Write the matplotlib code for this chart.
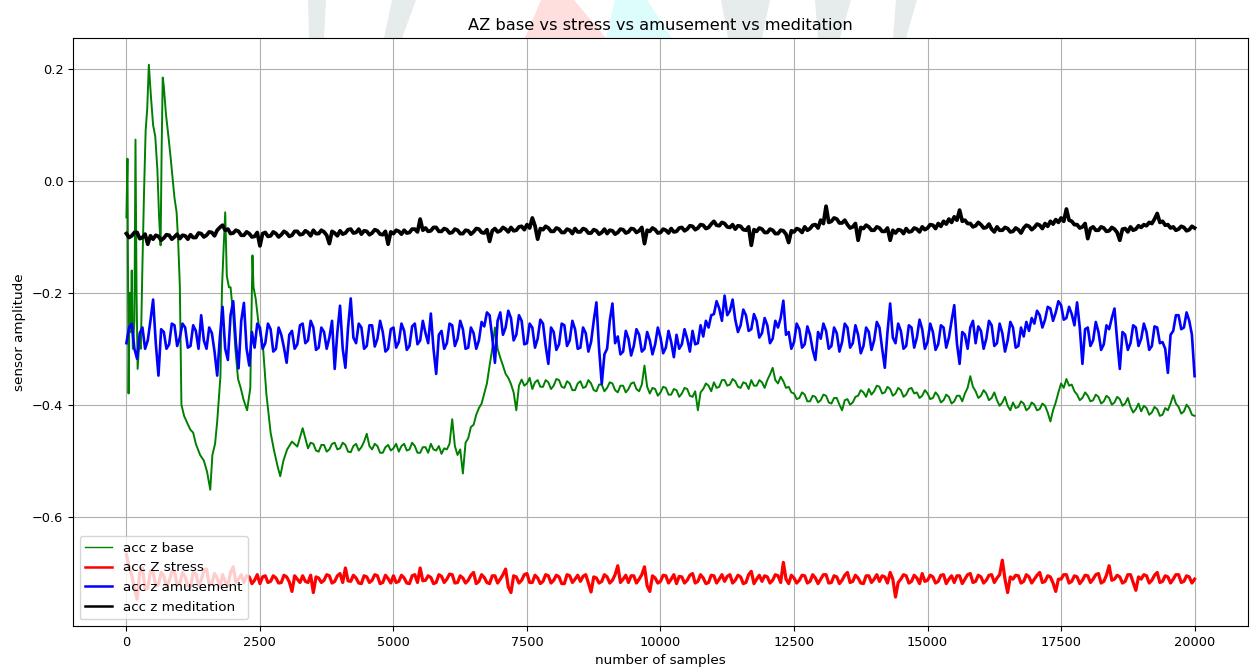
#!/usr/bin/env python3
''' Plot z-axis accelerometer traces for the four sessions
'''

#
# import statements
#

import numpy as np
import matplotlib
matplotlib.use('Agg')
from matplotlib import pyplot
from matplotlib.patches import Polygon

#
# data
#

# sample index for the regularly sampled traces (every 50th sample)
samples = np.arange(0, 20001, 50)

# acc z meditation
acc_meditation = [
    -0.094, -0.101, -0.098, -0.092, -0.092, -0.103, -0.101, -0.095, -0.113, -0.098,
    -0.104, -0.097, -0.099, -0.106, -0.102, -0.096, -0.097, -0.104, -0.100, -0.095,
    -0.103, -0.097, -0.098, -0.104, -0.096, -0.101, -0.101, -0.093, -0.094, -0.100,
    -0.097, -0.091, -0.092, -0.098, -0.088, -0.083, -0.079, -0.088, -0.086, -0.094,
    -0.093, -0.088, -0.090, -0.097, -0.097, -0.091, -0.094, -0.100, -0.099, -0.092,
    -0.116, -0.094, -0.092, -0.099, -0.098, -0.091, -0.094, -0.100, -0.096, -0.090,
    -0.093, -0.099, -0.097, -0.090, -0.090, -0.096, -0.095, -0.089, -0.092, -0.098,
    -0.088, -0.094, -0.094, -0.088, -0.091, -0.097, -0.112, -0.090, -0.093, -0.098,
    -0.089, -0.095, -0.093, -0.087, -0.086, -0.093, -0.092, -0.086, -0.095, -0.089,
    -0.090, -0.096, -0.093, -0.087, -0.089, -0.095, -0.096, -0.090, -0.113, -0.091,
    -0.094, -0.088, -0.090, -0.095, -0.088, -0.093, -0.092, -0.086, -0.086, -0.091,
    -0.068, -0.088, -0.084, -0.090, -0.089, -0.083, -0.083, -0.090, -0.090, -0.085,
    -0.087, -0.093, -0.092, -0.086, -0.088, -0.094, -0.094, -0.088, -0.089, -0.095,
    -0.091, -0.085, -0.086, -0.092, -0.093, -0.087, -0.108, -0.089, -0.085, -0.091,
    -0.089, -0.083, -0.086, -0.091, -0.083, -0.089, -0.088, -0.082, -0.081, -0.087,
    -0.078, -0.084, -0.066, -0.080, -0.104, -0.085, -0.087, -0.081, -0.084, -0.090,
    -0.090, -0.084, -0.086, -0.092, -0.092, -0.086, -0.088, -0.094, -0.085, -0.091,
    -0.091, -0.085, -0.087, -0.093, -0.093, -0.087, -0.089, -0.095, -0.092, -0.086,
    -0.094, -0.088, -0.089, -0.095, -0.092, -0.086, -0.087, -0.093, -0.091, -0.085,
    -0.086, -0.092, -0.089, -0.083, -0.112, -0.088, -0.090, -0.084, -0.087, -0.093,
    -0.092, -0.086, -0.088, -0.093, -0.085, -0.091, -0.090, -0.084, -0.083, -0.089,
    -0.086, -0.080, -0.081, -0.087, -0.084, -0.078, -0.079, -0.085, -0.083, -0.077,
    -0.072, -0.079, -0.080, -0.074, -0.076, -0.082, -0.083, -0.078, -0.086, -0.080,
    -0.081, -0.087, -0.088, -0.082, -0.115, -0.087, -0.090, -0.084, -0.086, -0.092,
    -0.092, -0.086, -0.088, -0.094, -0.094, -0.088, -0.089, -0.095, -0.110, -0.089,
    -0.091, -0.085, -0.087, -0.092, -0.082, -0.088, -0.085, -0.079, -0.078, -0.084,
    -0.070, -0.076, -0.045, -0.074, -0.072, -0.066, -0.068, -0.075, -0.075, -0.070,
    -0.078, -0.084, -0.082, -0.076, -0.106, -0.083, -0.085, -0.079, -0.082, -0.088,
    -0.088, -0.082, -0.084, -0.090, -0.090, -0.084, -0.106, -0.088, -0.093, -0.087,
    -0.088, -0.094, -0.085, -0.091, -0.090, -0.084, -0.086, -0.091, -0.082, -0.087,
    -0.084, -0.078, -0.079, -0.085, -0.076, -0.081, -0.072, -0.077, -0.068, -0.074,
    -0.064, -0.070, -0.052, -0.072, -0.070, -0.076, -0.076, -0.082, -0.080, -0.074,
    -0.078, -0.084, -0.083, -0.077, -0.086, -0.091, -0.082, -0.088, -0.088, -0.083,
    -0.085, -0.091, -0.090, -0.084, -0.087, -0.093, -0.084, -0.079, -0.081, -0.087,
    -0.083, -0.077, -0.079, -0.085, -0.076, -0.081, -0.072, -0.077, -0.069, -0.074,
    -0.066, -0.072, -0.050, -0.070, -0.072, -0.078, -0.078, -0.084, -0.082, -0.076,
    -0.103, -0.085, -0.082, -0.088, -0.088, -0.082, -0.084, -0.090, -0.089, -0.083,
    -0.086, -0.092, -0.106, -0.086, -0.085, -0.091, -0.082, -0.088, -0.086, -0.080,
    -0.083, -0.078, -0.080, -0.074, -0.076, -0.068, -0.058, -0.074, -0.072, -0.079,
    -0.078, -0.084, -0.082, -0.088, -0.086, -0.081, -0.083, -0.089, -0.087, -0.081,
    -0.084,
]

# acc Z stress
acc_stress = [
    -0.668, -0.690, -0.705, -0.728, -0.748, -0.700, -0.692, -0.730, -0.728, -0.698,
    -0.700, -0.724, -0.722, -0.700, -0.706, -0.726, -0.716, -0.698, -0.698, -0.722,
    -0.720, -0.700, -0.708, -0.724, -0.726, -0.700, -0.702, -0.722, -0.714, -0.696,
    -0.694, -0.722, -0.720, -0.702, -0.710, -0.726, -0.704, -0.716, -0.724, -0.700,
    -0.690, -0.718, -0.712, -0.704, -0.718, -0.706, -0.708, -0.720, -0.714, -0.704,
    -0.720, -0.708, -0.706, -0.718, -0.716, -0.706, -0.710, -0.719, -0.718, -0.705,
    -0.708, -0.717, -0.734, -0.706, -0.712, -0.718, -0.706, -0.716, -0.718, -0.705,
    -0.736, -0.708, -0.710, -0.718, -0.714, -0.704, -0.706, -0.719, -0.716, -0.706,
    -0.702, -0.718, -0.692, -0.715, -0.716, -0.705, -0.710, -0.719, -0.720, -0.706,
    -0.708, -0.718, -0.714, -0.704, -0.706, -0.720, -0.718, -0.705, -0.711, -0.719,
    -0.706, -0.718, -0.716, -0.705, -0.710, -0.719, -0.720, -0.706, -0.704, -0.718,
    -0.692, -0.715, -0.714, -0.706, -0.709, -0.720, -0.718, -0.704, -0.707, -0.718,
    -0.712, -0.703, -0.704, -0.719, -0.718, -0.706, -0.710, -0.719, -0.714, -0.705,
    -0.700, -0.720, -0.716, -0.704, -0.709, -0.718, -0.720, -0.706, -0.706, -0.719,
    -0.712, -0.704, -0.694, -0.726, -0.736, -0.706, -0.708, -0.719, -0.714, -0.704,
    -0.702, -0.718, -0.718, -0.705, -0.710, -0.720, -0.716, -0.704, -0.706, -0.719,
    -0.714, -0.705, -0.708, -0.720, -0.720, -0.704, -0.706, -0.718, -0.712, -0.705,
    -0.716, -0.707, -0.704, -0.719, -0.735, -0.708, -0.710, -0.719, -0.716, -0.704,
    -0.708, -0.719, -0.714, -0.704, -0.688, -0.718, -0.712, -0.705, -0.718, -0.706,
    -0.706, -0.719, -0.712, -0.704, -0.690, -0.724, -0.734, -0.706, -0.710, -0.719,
    -0.716, -0.705, -0.706, -0.719, -0.712, -0.704, -0.720, -0.707, -0.708, -0.719,
    -0.714, -0.705, -0.702, -0.719, -0.716, -0.704, -0.710, -0.720, -0.718, -0.705,
    -0.706, -0.719, -0.712, -0.704, -0.716, -0.707, -0.704, -0.719, -0.714, -0.705,
    -0.708, -0.720, -0.718, -0.704, -0.698, -0.720, -0.712, -0.705, -0.716, -0.706,
    -0.708, -0.719, -0.714, -0.704, -0.706, -0.718, -0.682, -0.712, -0.720, -0.705,
    -0.710, -0.719, -0.714, -0.705, -0.706, -0.719, -0.716, -0.704, -0.710, -0.720,
    -0.712, -0.704, -0.704, -0.719, -0.718, -0.706, -0.708, -0.720, -0.714, -0.705,
    -0.700, -0.718, -0.716, -0.705, -0.710, -0.719, -0.720, -0.706, -0.706, -0.718,
    -0.712, -0.704, -0.716, -0.706, -0.708, -0.719, -0.700, -0.712, -0.744, -0.718,
    -0.712, -0.704, -0.706, -0.719, -0.716, -0.705, -0.710, -0.720, -0.702, -0.716,
    -0.714, -0.705, -0.708, -0.719, -0.716, -0.705, -0.704, -0.720, -0.712, -0.706,
    -0.718, -0.706, -0.706, -0.720, -0.712, -0.704, -0.702, -0.718, -0.716, -0.705,
    -0.708, -0.719, -0.714, -0.705, -0.704, -0.718, -0.710, -0.704, -0.678, -0.712,
    -0.736, -0.708, -0.712, -0.705, -0.706, -0.719, -0.716, -0.704, -0.708, -0.719,
    -0.712, -0.705, -0.700, -0.718, -0.716, -0.706, -0.708, -0.719, -0.734, -0.712,
    -0.712, -0.704, -0.704, -0.719, -0.716, -0.706, -0.708, -0.720, -0.714, -0.705,
    -0.706, -0.718, -0.712, -0.704, -0.702, -0.719, -0.716, -0.705, -0.688, -0.714,
    -0.712, -0.705, -0.708, -0.719, -0.716, -0.704, -0.704, -0.718, -0.732, -0.708,
    -0.712, -0.704, -0.706, -0.719, -0.714, -0.705, -0.700, -0.718, -0.716, -0.706,
    -0.708, -0.719, -0.712, -0.704, -0.704, -0.718, -0.716, -0.706, -0.708, -0.719,
    -0.712,
]

# acc z amusement
acc_amusement = [
    -0.290, -0.262, -0.255, -0.300, -0.318, -0.272, -0.262, -0.300, -0.285, -0.250,
    -0.212, -0.290, -0.348, -0.265, -0.270, -0.300, -0.292, -0.255, -0.258, -0.295,
    -0.280, -0.255, -0.262, -0.298, -0.295, -0.258, -0.268, -0.300, -0.240, -0.285,
    -0.300, -0.262, -0.272, -0.305, -0.348, -0.280, -0.225, -0.300, -0.320, -0.240,
    -0.215, -0.290, -0.335, -0.250, -0.218, -0.300, -0.330, -0.270, -0.298, -0.255,
    -0.262, -0.300, -0.290, -0.255, -0.265, -0.305, -0.300, -0.262, -0.275, -0.298,
    -0.325, -0.275, -0.268, -0.300, -0.292, -0.258, -0.255, -0.290, -0.285, -0.250,
    -0.262, -0.302, -0.298, -0.262, -0.270, -0.300, -0.280, -0.250, -0.336, -0.270,
    -0.223, -0.300, -0.334, -0.262, -0.210, -0.280, -0.290, -0.255, -0.262, -0.300,
    -0.295, -0.258, -0.258, -0.296, -0.282, -0.250, -0.270, -0.305, -0.300, -0.265,
    -0.262, -0.298, -0.288, -0.255, -0.268, -0.302, -0.295, -0.260, -0.255, -0.292,
    -0.285, -0.250, -0.272, -0.290, -0.237, -0.300, -0.345, -0.275, -0.268, -0.300,
    -0.290, -0.255, -0.258, -0.295, -0.282, -0.250, -0.265, -0.300, -0.298, -0.262,
    -0.272, -0.300, -0.285, -0.252, -0.260, -0.235, -0.240, -0.280, -0.325, -0.250,
    -0.235, -0.275, -0.262, -0.232, -0.245, -0.285, -0.275, -0.240, -0.250, -0.292,
    -0.290, -0.255, -0.262, -0.298, -0.282, -0.248, -0.255, -0.295, -0.327, -0.262,
    -0.270, -0.302, -0.292, -0.255, -0.258, -0.295, -0.285, -0.250, -0.265, -0.300,
    -0.298, -0.262, -0.272, -0.305, -0.288, -0.250, -0.217, -0.300, -0.363, -0.310,
    -0.300, -0.250, -0.219, -0.290, -0.278, -0.310, -0.305, -0.268, -0.282, -0.312,
    -0.295, -0.265, -0.275, -0.305, -0.300, -0.270, -0.285, -0.310, -0.292, -0.262,
    -0.280, -0.308, -0.298, -0.268, -0.288, -0.315, -0.275, -0.300, -0.292, -0.265,
    -0.282, -0.305, -0.268, -0.292, -0.290, -0.258, -0.278, -0.250, -0.262, -0.240,
    -0.238, -0.215, -0.228, -0.250, -0.205, -0.240, -0.232, -0.212, -0.248, -0.270,
    -0.258, -0.230, -0.240, -0.268, -0.265, -0.238, -0.250, -0.280, -0.272, -0.245,
    -0.258, -0.290, -0.282, -0.250, -0.262, -0.245, -0.214, -0.275, -0.270, -0.300,
    -0.288, -0.255, -0.265, -0.298, -0.292, -0.260, -0.275, -0.302, -0.320, -0.270,
    -0.282, -0.255, -0.268, -0.300, -0.295, -0.262, -0.272, -0.305, -0.288, -0.255,
    -0.262, -0.298, -0.290, -0.258, -0.275, -0.308, -0.295, -0.262, -0.270, -0.302,
    -0.285, -0.252, -0.262, -0.300, -0.334, -0.270, -0.219, -0.280, -0.290, -0.255,
    -0.268, -0.300, -0.295, -0.258, -0.262, -0.298, -0.280, -0.248, -0.265, -0.300,
    -0.288, -0.255, -0.270, -0.302, -0.292, -0.258, -0.262, -0.298, -0.280, -0.250,
    -0.222, -0.290, -0.327, -0.270, -0.275, -0.300, -0.262, -0.250, -0.290, -0.260,
    -0.268, -0.300, -0.282, -0.250, -0.258, -0.295, -0.290, -0.255, -0.272, -0.305,
    -0.285, -0.252, -0.262, -0.298, -0.295, -0.262, -0.278, -0.252, -0.268, -0.245,
    -0.255, -0.232, -0.240, -0.262, -0.248, -0.225, -0.228, -0.250, -0.235, -0.215,
    -0.222, -0.248, -0.245, -0.225, -0.238, -0.258, -0.217, -0.262, -0.327, -0.265,
    -0.262, -0.295, -0.285, -0.252, -0.270, -0.302, -0.292, -0.258, -0.265, -0.245,
    -0.228, -0.285, -0.336, -0.270, -0.275, -0.302, -0.290, -0.258, -0.262, -0.295,
    -0.282, -0.255, -0.270, -0.302, -0.295, -0.260, -0.262, -0.290, -0.288, -0.300,
    -0.343, -0.275, -0.268, -0.240, -0.240, -0.265, -0.262, -0.235, -0.250, -0.275,
    -0.349,
]

# acc z base: the first 3300 samples move fast, so they are read more densely
base_samples = [
    0, 20, 40, 60, 80, 100, 120, 150, 170, 190,
    210, 240, 270, 300, 330, 360, 390, 420, 440, 460,
    500, 540, 580, 610, 640, 660, 680, 700, 740, 790,
    830, 860, 900, 940, 970, 1000, 1030, 1080, 1140, 1200,
    1250, 1300, 1380, 1450, 1510, 1570, 1610, 1660, 1700, 1760,
    1790, 1820, 1850, 1880, 1920, 1950, 2000, 2040, 2090, 2140,
    2190, 2260, 2320, 2360, 2380, 2420, 2480, 2560, 2620, 2700,
    2760, 2830, 2880, 2940, 3010, 3100, 3200, 3300,
] + list(range(3400, 20001, 50))

acc_base = [
    -0.065, 0.040, -0.380, -0.200, -0.270, -0.160, -0.300, -0.250, 0.074, -0.200,
    -0.336, -0.290, -0.300, -0.150, -0.020, 0.090, 0.130, 0.208, 0.180, 0.150,
    0.100, 0.080, 0.020, -0.060, -0.115, 0.060, 0.185, 0.170, 0.120, 0.077,
    0.040, 0.010, -0.030, -0.056, -0.110, -0.187, -0.400, -0.420, -0.433, -0.445,
    -0.450, -0.470, -0.490, -0.500, -0.520, -0.552, -0.490, -0.470, -0.430, -0.350,
    -0.190, -0.120, -0.056, -0.170, -0.190, -0.190, -0.240, -0.300, -0.354, -0.370,
    -0.390, -0.410, -0.370, -0.133, -0.190, -0.210, -0.260, -0.300, -0.380, -0.450,
    -0.480, -0.510, -0.528, -0.500, -0.480, -0.466, -0.475, -0.442,
    # 3400 onwards, every 50 samples
    -0.478, -0.468, -0.470, -0.482, -0.484, -0.472, -0.472, -0.484, -0.480, -0.470,
    -0.468, -0.480,
    -0.478, -0.468, -0.472, -0.484, -0.485, -0.474, -0.470, -0.482, -0.476, -0.466,
    -0.452, -0.474, -0.480, -0.470, -0.474, -0.486, -0.486, -0.476, -0.472, -0.482,
    -0.478, -0.470, -0.484, -0.474, -0.470, -0.482, -0.480, -0.468, -0.474, -0.486,
    -0.486, -0.476, -0.476, -0.486, -0.470, -0.480, -0.482, -0.474, -0.488, -0.478,
    -0.480, -0.470, -0.426, -0.474, -0.490, -0.480, -0.523, -0.468, -0.460, -0.440,
    -0.436, -0.418, -0.406, -0.398, -0.380, -0.362, -0.330, -0.300, -0.262, -0.300,
    -0.316, -0.330, -0.345, -0.352, -0.363, -0.378, -0.410, -0.366, -0.355, -0.366,
    -0.362, -0.352, -0.372, -0.360, -0.356, -0.368, -0.368, -0.356, -0.360, -0.372,
    -0.366, -0.354, -0.356, -0.368, -0.370, -0.358, -0.362, -0.374, -0.374, -0.362,
    -0.358, -0.370, -0.368, -0.356, -0.362, -0.374, -0.376, -0.364, -0.364, -0.376,
    -0.370, -0.360, -0.362, -0.374, -0.378, -0.366, -0.366, -0.378, -0.372, -0.362,
    -0.360, -0.372, -0.376, -0.364, -0.330, -0.368, -0.380, -0.370, -0.372, -0.384,
    -0.378, -0.368, -0.370, -0.382, -0.382, -0.372, -0.374, -0.386, -0.380, -0.370,
    -0.372, -0.384, -0.386, -0.376, -0.410, -0.378, -0.372, -0.362, -0.366, -0.376,
    -0.360, -0.370, -0.368, -0.356, -0.356, -0.366, -0.364, -0.354, -0.358, -0.368,
    -0.370, -0.360, -0.362, -0.372, -0.356, -0.366, -0.366, -0.356, -0.360, -0.370,
    -0.356, -0.346, -0.334, -0.356, -0.362, -0.350, -0.358, -0.370, -0.368, -0.378,
    -0.380, -0.390, -0.388, -0.378, -0.382, -0.394, -0.394, -0.384, -0.386, -0.396,
    -0.392, -0.382, -0.384, -0.396, -0.398, -0.388, -0.388, -0.400, -0.410, -0.392,
    -0.390, -0.400, -0.396, -0.386, -0.384, -0.374, -0.378, -0.386, -0.372, -0.382,
    -0.376, -0.366, -0.368, -0.380, -0.378, -0.368, -0.372, -0.384, -0.380, -0.370,
    -0.374, -0.386, -0.382, -0.372, -0.370, -0.380, -0.378, -0.388, -0.384, -0.374,
    -0.380, -0.390, -0.388, -0.378, -0.384, -0.396, -0.392, -0.382, -0.386, -0.398,
    -0.394, -0.384, -0.384, -0.394, -0.380, -0.370, -0.349, -0.368, -0.376, -0.388,
    -0.384, -0.374, -0.380, -0.392, -0.388, -0.378, -0.392, -0.402, -0.396, -0.386,
    -0.402, -0.410, -0.396, -0.406, -0.404, -0.394, -0.398, -0.410, -0.406, -0.396,
    -0.400, -0.410, -0.408, -0.398, -0.402, -0.414, -0.430, -0.410, -0.396, -0.378,
    -0.362, -0.370, -0.354, -0.366, -0.364, -0.376, -0.382, -0.392, -0.388, -0.378,
    -0.384, -0.394, -0.392, -0.382, -0.386, -0.398, -0.394, -0.384, -0.388, -0.400,
    -0.396, -0.386, -0.390, -0.402, -0.398, -0.388, -0.404, -0.414, -0.408, -0.398,
    -0.412, -0.402, -0.406, -0.418, -0.414, -0.404, -0.408, -0.420, -0.418, -0.406,
    -0.410, -0.398, -0.383, -0.398, -0.404, -0.416, -0.412, -0.400, -0.406, -0.418,
    -0.420,
]

#
# main
#

if __name__ == '__main__':

    for name, ys in [('meditation', acc_meditation), ('stress', acc_stress),
                     ('amusement', acc_amusement)]:
        assert len(ys) == len(samples), name
    assert len(acc_base) == len(base_samples)

    W, H = 1250, 671
    fig = pyplot.figure(figsize=(W / 100, H / 100), dpi=100)

    # faded logo peeking out above the plot area (pixel outlines)
    def px(pts):
        return [(x / W, 1 - y / H) for x, y in pts]

    logo = [
        ([(308, 0), (326, 0), (324, 38), (309, 38)], '#e6ebec'),
        ([(392, 0), (416, 0), (402, 38), (384, 38)], '#e6ebec'),
        ([(541, 0), (574, 0), (606, 38), (525, 38)], '#ffdede'),
        ([(615, 0), (647, 0), (672, 38), (606, 38)], '#ddfcfc'),
        ([(721, 0), (770, 0), (762, 38), (728, 38)], '#e6ebec'),
        ([(815, 0), (851, 0), (840, 38), (818, 38)], '#e6ebec'),
        ([(896, 0), (917, 0), (906, 38), (893, 38)], '#e6ebec'),
    ]
    for pts, col in logo:
        fig.patches.append(Polygon(px(pts), closed=True, transform=fig.transFigure,
                                   facecolor=col, edgecolor='none', zorder=-5))

    ax = fig.add_axes([73 / W, 1 - 626 / H, (1248 - 73) / W, (626 - 38) / H])

    ax.plot(base_samples, acc_base, color='green', lw=1.4, label='acc z base')
    ax.plot(samples, acc_stress, color='red', lw=2.3, label='acc Z stress')
    ax.plot(samples, acc_amusement, color='blue', lw=1.9, label='acc z amusement')
    ax.plot(samples, acc_meditation, color='black', lw=2.7, label='acc z meditation')

    ax.set_title('AZ base vs stress vs amusement vs meditation', fontsize=11.7)
    ax.set_xlabel('number of samples', fontsize=9.7)
    ax.set_ylabel('sensor amplitude', fontsize=9.7)
    ax.set_xticks([0, 2500, 5000, 7500, 10000, 12500, 15000, 17500, 20000])
    ax.set_yticks([-0.6, -0.4, -0.2, 0.0, 0.2])
    ax.tick_params(labelsize=9.3)
    ax.grid(True)

    leg = ax.legend(loc='lower left', fontsize=9.7)
    for line in leg.get_lines():
        line.set_linewidth(1.0 if line.get_color() == 'green' else 1.8)

    fig.savefig('out.png', dpi=100)
